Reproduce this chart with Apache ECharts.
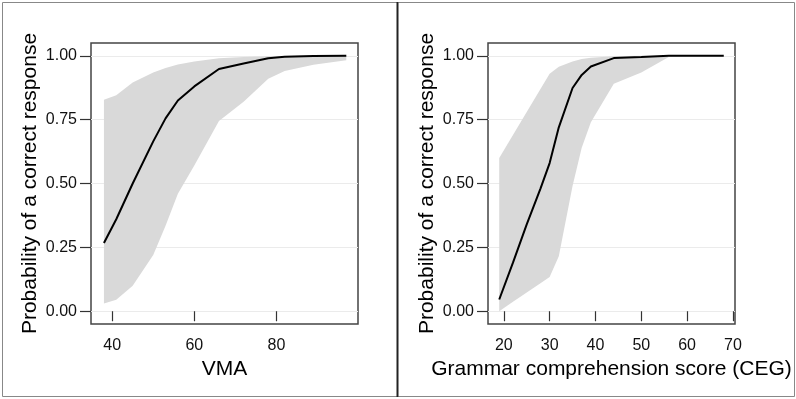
<!DOCTYPE html>
<html>
<head>
<meta charset="utf-8">
<script src="https://cdn.jsdelivr.net/npm/echarts@6/dist/echarts.min.js"></script>
<style>
  html, body { margin: 0; padding: 0; background: #fff; }
  #chart { width: 796px; height: 399px; }
</style>
</head>
<body>
<div id="chart"></div>
<script>
// left panel: VMA
const vmaX = [38, 41, 45, 50, 53, 56, 60, 66, 72, 78, 82, 89, 97];
const vmaFit = [0.267, 0.36, 0.50, 0.665, 0.755, 0.825, 0.88, 0.948, 0.97, 0.99, 0.996, 0.999, 1.0];
const vmaLow = [0.03, 0.045, 0.10, 0.22, 0.335, 0.46, 0.57, 0.745, 0.82, 0.91, 0.94, 0.965, 0.982];
const vmaHigh = [0.828, 0.845, 0.895, 0.935, 0.952, 0.966, 0.978, 0.99, 0.995, 0.998, 0.999, 1.0, 1.0];
const vmaTicks = [40, 60, 80];

// right panel: CEG
const cegX = [19, 22, 25, 28, 30, 32, 35, 37, 39, 44, 50, 56, 62, 68];
const cegFit = [0.046, 0.19, 0.34, 0.48, 0.58, 0.72, 0.874, 0.925, 0.958, 0.991, 0.995, 1.0, 1.0, 1.0];
const cegLow = [0.0, 0.037, 0.073, 0.11, 0.134, 0.215, 0.49, 0.64, 0.74, 0.89, 0.935, 0.995, 1.0, 1.0];
const cegHigh = [0.60, 0.69, 0.78, 0.87, 0.93, 0.957, 0.978, 0.987, 0.992, 0.998, 1.0, 1.0, 1.0, 1.0];
const cegTicks = [20, 30, 40, 50, 60, 70];

const probTicks = [0, 0.25, 0.5, 0.75, 1];
const yTitle = 'Probability of a correct response';
const font = 'Liberation Sans, Arial, sans-serif';

const zip = (xs, ys) => xs.map((x, i) => [x, ys[i]]);

function bandSeries(idx, xs, lo, hi) {
  return {
    type: 'custom',
    xAxisIndex: idx,
    yAxisIndex: idx,
    silent: true,
    z: 1,
    data: xs.map((x, i) => [x, lo[i], hi[i]]),
    renderItem(params, api) {
      if (params.dataIndex !== 0) return;
      const pts = [];
      xs.forEach((x, i) => pts.push(api.coord([x, hi[i]])));
      for (let i = xs.length - 1; i >= 0; i--) pts.push(api.coord([xs[i], lo[i]]));
      return {
        type: 'polygon',
        shape: { points: pts },
        style: { fill: '#d9d9d9' }
      };
    }
  };
}

function lineSeries(idx, xs, ys) {
  return {
    type: 'line',
    xAxisIndex: idx,
    yAxisIndex: idx,
    data: zip(xs, ys),
    showSymbol: false,
    z: 3,
    lineStyle: { color: '#000', width: 2 }
  };
}

function xAxis(idx, name, min, max, ticks) {
  return {
    type: 'value',
    gridIndex: idx,
    min, max,
    name,
    nameLocation: 'middle',
    nameGap: 33,
    nameTextStyle: { fontSize: 21, color: '#000', fontFamily: font },
    axisLine: { show: false },
    axisTick: { show: true, length: 10, customValues: ticks, lineStyle: { color: '#333', width: 1.2 } },
    axisLabel: { customValues: ticks, fontSize: 16, color: '#111', fontFamily: font, margin: 14 },
    splitLine: { show: false }
  };
}

function yAxis(idx) {
  return {
    type: 'value',
    gridIndex: idx,
    min: -0.05, max: 1.05,
    name: yTitle,
    nameLocation: 'middle',
    nameGap: 50,
    nameTextStyle: { fontSize: 21, color: '#000', fontFamily: font },
    axisLine: { show: false },
    axisTick: { show: true, length: 11, customValues: probTicks, lineStyle: { color: '#333', width: 1.2 } },
    axisLabel: {
      customValues: probTicks, fontSize: 16, color: '#111', fontFamily: font, margin: 14,
      formatter: (v) => v.toFixed(2)
    },
    splitLine: { show: true, lineStyle: { color: '#ebebeb', width: 1 } }
  };
}

const chart = echarts.init(document.getElementById('chart'), null, { renderer: 'canvas' });
chart.setOption({
  animation: false,
  backgroundColor: '#fff',
  grid: [
    { left: 91, top: 43, width: 267, height: 281, show: true, borderColor: '#444', borderWidth: 1.5, backgroundColor: 'transparent' },
    { left: 488, top: 43, width: 247, height: 281, show: true, borderColor: '#444', borderWidth: 1.5, backgroundColor: 'transparent' }
  ],
  xAxis: [
    xAxis(0, 'VMA', 34.85, 99.85, vmaTicks),
    xAxis(1, 'Grammar comprehension score (CEG)', 16.55, 70.45, cegTicks)
  ],
  yAxis: [yAxis(0), yAxis(1)],
  graphic: [
    { type: 'rect', shape: { x: 2.5, y: 2.5, width: 792, height: 394 }, style: { fill: 'none', stroke: '#888', lineWidth: 1 }, z: 100 },
    { type: 'line', shape: { x1: 397.5, y1: 2, x2: 397.5, y2: 397 }, style: { stroke: '#222', lineWidth: 2 }, z: 100 }
  ],
  series: [
    bandSeries(0, vmaX, vmaLow, vmaHigh),
    lineSeries(0, vmaX, vmaFit),
    bandSeries(1, cegX, cegLow, cegHigh),
    lineSeries(1, cegX, cegFit)
  ]
});
</script>
</body>
</html>
